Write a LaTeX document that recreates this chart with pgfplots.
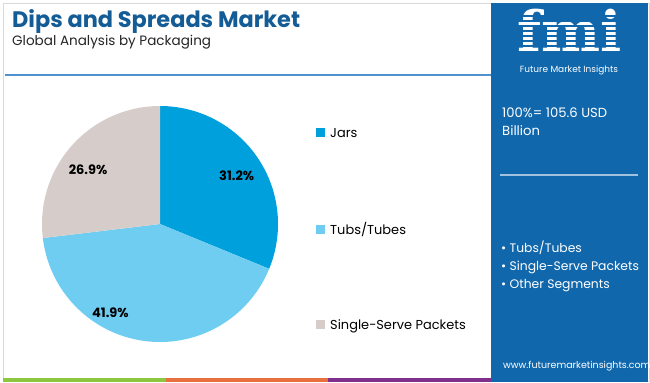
\documentclass[border=0pt]{standalone}
\usepackage{pgfplots}
\pgfplotsset{compat=1.18}
\usepackage{fontspec}
\setmainfont{Poppins}
\newfontfamily\logofont{DejaVu Serif}
\definecolor{jars}{RGB}{0,160,220}
\definecolor{tubs}{RGB}{110,205,240}
\definecolor{single}{RGB}{214,205,202}
\definecolor{panel}{RGB}{17,103,172}
\definecolor{titleblue}{RGB}{20,92,150}
\definecolor{rulec}{RGB}{80,145,205}
\definecolor{stripeg}{RGB}{141,198,63}
\definecolor{stripeo}{RGB}{232,112,62}
\definecolor{stripep}{RGB}{128,48,140}
% shares of the market (percent)
\newcommand\pJars{31.2}
\newcommand\pTubs{41.9}
\newcommand\pSingle{26.9}
\pgfmathsetmacro\aA{90}
\pgfmathsetmacro\aB{90-3.6*\pJars}
\pgfmathsetmacro\aC{\aB-3.6*\pTubs}
\pgfmathsetmacro\aD{\aC-3.6*\pSingle}
\begin{document}
\begin{tikzpicture}
\begin{scope}[x=1bp,y=-1bp,yshift=382bp]
\useasboundingbox (0,0) rectangle (650,382);
\fill[white] (0,0) rectangle (650,382);
\draw[black!15,line width=0.8bp] (3,3) rectangle (649,381);
% title
\node[anchor=base west,inner sep=0,text=titleblue,font=\bfseries\fontsize{22.5}{26}\selectfont] at (12,28) {Dips and Spreads Market};
\node[anchor=base west,inner sep=0,text=black!85,font=\fontsize{13.6}{16}\selectfont] at (12,46) {Global Analysis by Packaging};
\draw[rulec,line width=1.6bp] (5,75) -- (491,75);
% bottom stripes
\fill[stripeg] (3,378) rectangle (166,382);
\fill[stripeo] (166,378) rectangle (328,382);
\fill[stripep] (328,378) rectangle (491,382);
% right panel
\fill[panel] (491,3) rectangle (648,382);
\node[anchor=base,inner sep=0,text depth=0pt,text=white,font=\logofont\bfseries\fontsize{56}{56}\selectfont] at (570,52) {fmi};
\foreach \yy in {16,21,26,31,36,41,46}{\draw[panel,line width=1.2bp] (508,\yy) -- (632,\yy);}
\node[anchor=base,inner sep=0,text=white,font=\fontsize{9}{10}\selectfont] at (569,72) {Future Market Insights};
\node[anchor=base west,inner sep=0,text=white,font=\fontsize{13.2}{16}\selectfont] at (502,117) {100\%= 105.6 USD};
\node[anchor=base west,inner sep=0,text=white,font=\fontsize{13.2}{16}\selectfont] at (502,135) {Billion};
\draw[white!60!panel,line width=1.2bp] (500,175) -- (638,175);
\node[anchor=base west,inner sep=0,text=white,font=\fontsize{12.4}{15}\selectfont] at (501,252) {• Tubs/Tubes};
\node[anchor=base west,inner sep=0,text=white,font=\fontsize{12.4}{15}\selectfont] at (501,270) {• Single-Serve Packets};
\node[anchor=base west,inner sep=0,text=white,font=\fontsize{12.4}{15}\selectfont] at (501,288) {• Other Segments};
\node[anchor=base west,inner sep=0,text=white,font=\fontsize{9.5}{12}\selectfont] at (503,368) {www.futuremarketinsights.com};
% legend
\fill[jars] (316,128) rectangle (325,137);
\node[anchor=base west,inner sep=0,font=\fontsize{13}{15}\selectfont] at (330,137) {Jars};
\fill[tubs] (316,225) rectangle (325,234);
\node[anchor=base west,inner sep=0,font=\fontsize{13}{15}\selectfont] at (330,234) {Tubs/Tubes};
\fill[single] (316,320) rectangle (325,329);
\node[anchor=base west,inner sep=0,font=\fontsize{13}{15}\selectfont] at (330,329) {Single-Serve Packets};
\end{scope}
\begin{axis}[at={(160bp,158bp)},anchor=center,scale only axis,width=236bp,height=236bp,
  xmin=-1,xmax=1,ymin=-1,ymax=1,hide axis,clip=false]
\addplot[fill=jars,draw=none,domain=\aA:\aB,samples=90] ({cos(x)},{sin(x)}) -- (axis cs:0,0) -- cycle;
\addplot[fill=tubs,draw=none,domain=\aB:\aC,samples=120] ({cos(x)},{sin(x)}) -- (axis cs:0,0) -- cycle;
\addplot[fill=single,draw=none,domain=\aC:\aD,samples=90] ({cos(x)},{sin(x)}) -- (axis cs:0,0) -- cycle;
\node[font=\bfseries\fontsize{13}{15}\selectfont] at (axis cs:0.65,0.41) {\pJars\%};
\node[font=\bfseries\fontsize{13}{15}\selectfont] at (axis cs:-0.42,-0.75) {\pTubs\%};
\node[font=\bfseries\fontsize{13}{15}\selectfont] at (axis cs:-0.61,0.46) {\pSingle\%};
\end{axis}
\end{tikzpicture}
\end{document}
